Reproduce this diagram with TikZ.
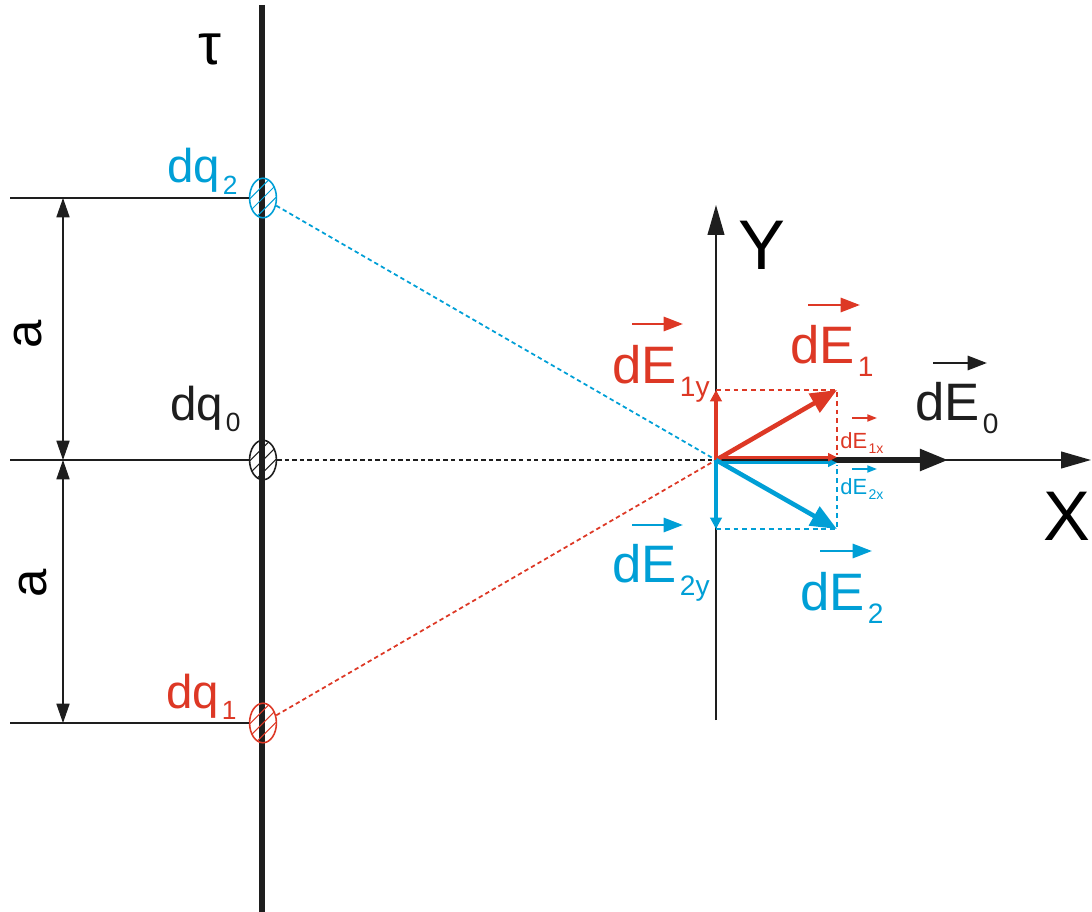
\documentclass[tikz,border=0pt]{standalone}
\usepackage{fontspec}
\setmainfont{Liberation Sans}
\usetikzlibrary{arrows.meta,shapes.geometric}

\definecolor{qred}{RGB}{221,56,37}
\definecolor{qblue}{RGB}{0,159,214}
\definecolor{qblack}{RGB}{30,30,30}

% label with a lowered index: size, index size, text, index
\newcommand{\vlabel}[4]{\fontsize{#1}{#1}\selectfont #3\kern.06em\raisebox{-.25em}{\fontsize{#2}{#2}\selectfont #4}}

\begin{document}
\begin{tikzpicture}[x=0.02cm, y=-0.02cm, >={Triangle[length=11pt,width=7.5pt]},
    thin line/.style={qblack, line width=0.6pt},
    axis/.style={qblack, line width=1pt, -{Triangle[length=17pt,width=9.5pt]}},
    charge/.style={ellipse, draw=#1, line width=0.9pt, inner sep=0pt,
        minimum width=15.3pt, minimum height=22.5pt,
        path picture={\foreach \k in {-10.5,-7,...,10.5}
            \draw[#1, line width=0.6pt] ([shift={(\k pt,-\k pt)}]path picture bounding box.center)
                ++(-20pt,-20pt) -- ++(40pt,40pt);}},
    ray/.style={line width=1pt, dash pattern=on 2.5pt off 1.8pt},
    guide/.style={line width=1pt, dash pattern=on 2.8pt off 2.2pt},
    vec/.style={line width=2.6pt, -{Triangle[length=15pt,width=12pt]}},
    comp/.style={line width=2.2pt, -{Triangle[length=6.5pt,width=6.5pt]}},
    compx/.style={line width=1.8pt, -{Triangle[length=5pt,width=4.5pt]}},
    varrow/.style={line width=1.6pt, -{Triangle[length=11pt,width=8pt]}},
    smallarrow/.style={line width=1pt, -{Triangle[length=5.5pt,width=4pt]}},
    lbl/.style={inner sep=0pt, anchor=base west},
]
    \useasboundingbox (0,0) rectangle (1092,912);

    % ==== THREAD ====
    \draw[qblack, line width=3.9pt] (262,5) -- (262,912);
    \node[font=\fontsize{33pt}{33pt}\selectfont] (tau) at (210,49) {τ};

    % ==== CHARGES ====
    \node[charge=qblue] (q2) at (263,198) {};
    \node[charge=qblack] (q0) at (263,460) {};
    \node[charge=qred] (q1) at (263,723) {};

    \node[lbl, qblue] (q2lbl) at (167,183) {\vlabel{27pt}{15pt}{dq}{2}};
    \node[lbl, qblack] (q0lbl) at (170,420) {\vlabel{27pt}{15pt}{dq}{0}};
    \node[lbl, qred] (q1lbl) at (166,708) {\vlabel{27pt}{15pt}{dq}{1}};

    % ==== DIMENSIONS ====
    \coordinate (l2) at (10,198);
    \coordinate (l0) at (10,460);
    \coordinate (l1) at (10,723);
    \coordinate (d2) at (63,198);
    \coordinate (d0) at (63,460);
    \coordinate (d1) at (63,723);
    \draw[thin line] (l2) -- (q2);
    \draw[thin line] (l0) -- (q0);
    \draw[thin line] (l1) -- (q1);
    \draw[thin line, <->] (d2) -- (d0);
    \draw[thin line, <->] (d0) -- (d1);
    \node[rotate=90, font=\fontsize{29pt}{29pt}\selectfont] (a2) at (28,334) {a};
    \node[rotate=90, font=\fontsize{29pt}{29pt}\selectfont] (a1) at (33,583) {a};

    % ==== AXES ====
    \coordinate (O) at (716,460);
    \coordinate (Xend) at (1091,460);
    \coordinate (Ybot) at (716,720);
    \coordinate (Ytop) at (716,205);
    \draw[axis] (O) -- (Xend);
    \draw[axis] (Ybot) -- (Ytop);
    \node[anchor=base, font=\fontsize{40pt}{40pt}\selectfont] (xlbl) at (1067,540) {X};
    \node[anchor=base, font=\fontsize{40pt}{40pt}\selectfont] (ylbl) at (762,270) {Y};

    % ==== RAYS ====
    \draw[ray, qblue] (q2) -- (O);
    \draw[ray, qred] (q1) -- (O);
    \draw[ray, qblack, line width=1.6pt] (q0) -- (O);

    % ==== FIELD VECTORS ====
    \coordinate (E1) at (837,390);
    \coordinate (E1y) at (716,390);
    \coordinate (E1x) at (837,460);
    \coordinate (E2) at (837,529);
    \coordinate (E2y) at (716,529);
    \coordinate (E2x) at (837,460);
    \coordinate (E0) at (948,460);

    \draw[guide, qred] (E1y) -- (E1) -- ([yshift=3pt]E1x);
    \draw[guide, qblue] (E2y) -- (E2) -- ([yshift=-3pt]E2x);
    \draw[vec, qblack, line width=3pt, -{Triangle[length=16pt,width=12pt]}] (O) -- (E0);
    \draw[compx, qblue] ([yshift=-1.6pt]O) -- ([yshift=-1.6pt]E2x);
    \draw[compx, qred] ([yshift=1.6pt]O) -- ([yshift=1.6pt]E1x);
    \draw[comp, qred] (O) -- (E1y);
    \draw[comp, qblue] (O) -- (E2y);
    \draw[vec, qred] (O) -- (E1);
    \draw[vec, qblue] (O) -- (E2);

    % === LABELS ===
    \node[lbl, qred] (e1lbl) at (790,363) {\vlabel{30pt}{16pt}{dE}{1}};
    \node[lbl, qred] (e1ylbl) at (612,383) {\vlabel{30pt}{16pt}{dE}{1y}};
    \node[lbl, qred] (e1xlbl) at (840,448) {\vlabel{12.5pt}{8pt}{dE}{1x}};
    \node[lbl, qblack] (e0lbl) at (915,420) {\vlabel{30pt}{16pt}{dE}{0}};
    \node[lbl, qblue] (e2xlbl) at (840,494) {\vlabel{12.5pt}{8pt}{dE}{2x}};
    \node[lbl, qblue] (e2ylbl) at (612,582) {\vlabel{30pt}{16pt}{dE}{2y}};
    \node[lbl, qblue] (e2lbl) at (800,610) {\vlabel{30pt}{16pt}{dE}{2}};

    \draw[varrow, qred] ([shift={(18,-58)}]e1lbl.base west) -- ++(52,0);
    \draw[varrow, qred] ([shift={(20,-59)}]e1ylbl.base west) -- ++(51,0);
    \draw[smallarrow, qred] ([shift={(12,-30)}]e1xlbl.base west) -- ++(25,0);
    \draw[varrow, qblack] ([shift={(18,-57)}]e0lbl.base west) -- ++(54,0);
    \draw[smallarrow, qblue] ([shift={(12,-25)}]e2xlbl.base west) -- ++(25,0);
    \draw[varrow, qblue] ([shift={(20,-57)}]e2ylbl.base west) -- ++(51,0);
    \draw[varrow, qblue] ([shift={(20,-59)}]e2lbl.base west) -- ++(52,0);
\end{tikzpicture}
\end{document}
